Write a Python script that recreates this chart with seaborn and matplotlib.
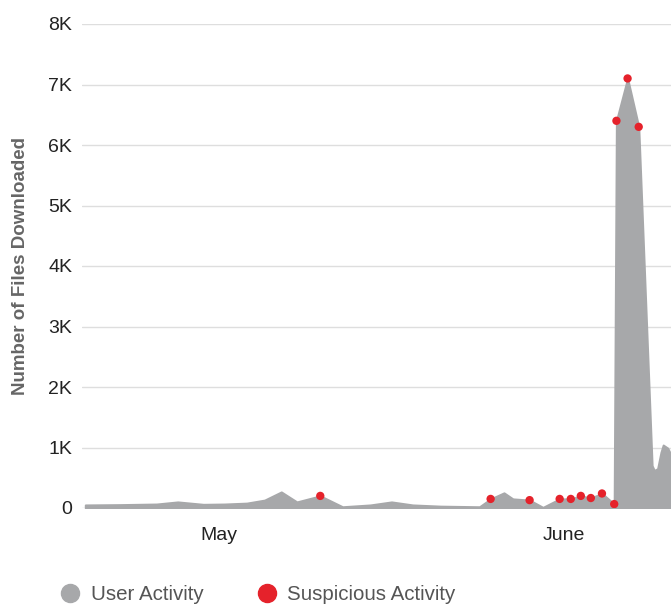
import numpy as np
import pandas as pd
import matplotlib
matplotlib.use("Agg")
import matplotlib.pyplot as plt
from matplotlib.lines import Line2D
import seaborn as sns

# jours depuis le 1er mai
user_day = [-12.0, -8.9, -5.6, -3.7, -1.4, 0.5, 2.5, 4.1, 5.6, 7.0, 9.1, 11.1,
            13.6, 15.5, 17.4, 19.9, 23.4, 24.4, 25.6, 26.4, 27.9, 29.1, 30.6,
            31.6, 32.5, 33.4, 34.4, 35.5, 35.7, 36.7, 37.7, 38.9, 39.1, 39.4,
            39.7, 39.9, 40.3, 40.6]
user_files = [50, 55, 65, 100, 60, 65, 80, 130, 265, 100, 200, 20,
              50, 100, 50, 30, 20, 150, 250, 150, 130, 10, 150,
              150, 200, 165, 240, 65, 6400, 7100, 6300, 700, 620, 650,
              920, 1040, 990, 880]

susp_day = [9.1, 24.4, 27.9, 30.6, 31.6, 32.5, 33.4, 34.4, 35.5, 35.7, 36.7, 37.7]
susp_files = [200, 150, 130, 150, 150, 200, 165, 240, 65, 6400, 7100, 6300]

month_pos = [0, 31]
month_labels = ["May", "June"]
y_ticks = [0, 1000, 2000, 3000, 4000, 5000, 6000, 7000, 8000]
y_labels = ["0", "1K", "2K", "3K", "4K", "5K", "6K", "7K", "8K"]

GRAY = "#a7a8aa"
RED = "#e5222b"

sns.set_theme(style="whitegrid")
plt.rcParams["font.family"] = ["Liberation Sans", "DejaVu Sans"]

df_user = pd.DataFrame({"day": user_day, "files": user_files})
df_susp = pd.DataFrame({"day": susp_day, "files": susp_files})

fig = plt.figure(figsize=(6.71, 6.04), dpi=100)
ax = fig.add_axes([82 / 671, (604 - 508) / 604, (671 - 82) / 671, (508 - 24) / 604])

ax.fill_between(df_user["day"], 0, df_user["files"], color=GRAY,
                edgecolor=GRAY, linewidth=1.5, zorder=2)
sns.scatterplot(data=df_susp, x="day", y="files", color=RED, s=36,
                edgecolor="none", zorder=3, ax=ax)

ax.set_xlim(-12.3, 40.6)
ax.set_ylim(0, 8000)
ax.set_xticks(month_pos)
ax.set_xticklabels(month_labels)
ax.set_yticks(y_ticks)
ax.set_yticklabels(y_labels)
ax.grid(axis="x", visible=False)
ax.grid(axis="y", color="#dedede", linewidth=1)
for s in ax.spines.values():
    s.set_visible(False)
ax.tick_params(axis="both", length=0, labelsize=14, colors="#222222")
ax.tick_params(axis="y", pad=7)
ax.tick_params(axis="x", pad=14)
ax.set_xlabel("")
ax.set_ylabel("Number of Files Downloaded", fontsize=13.5, fontweight="bold",
              color="#666666")
ax.yaxis.set_label_coords(-0.09, 0.5)

handles = [Line2D([], [], marker="o", linestyle="", markersize=13, color=GRAY),
           Line2D([], [], marker="o", linestyle="", markersize=13, color=RED)]
fig.legend(handles, ["User Activity", "Suspicious Activity"], loc="center left",
           bbox_to_anchor=(59.7 / 671, 9 / 604), ncol=2, frameon=False,
           fontsize=14.8, handlelength=1.0, handletextpad=0.5, columnspacing=2.6,
           borderpad=0, borderaxespad=0, labelcolor="#555555")

fig.savefig("out.png", dpi=100)
